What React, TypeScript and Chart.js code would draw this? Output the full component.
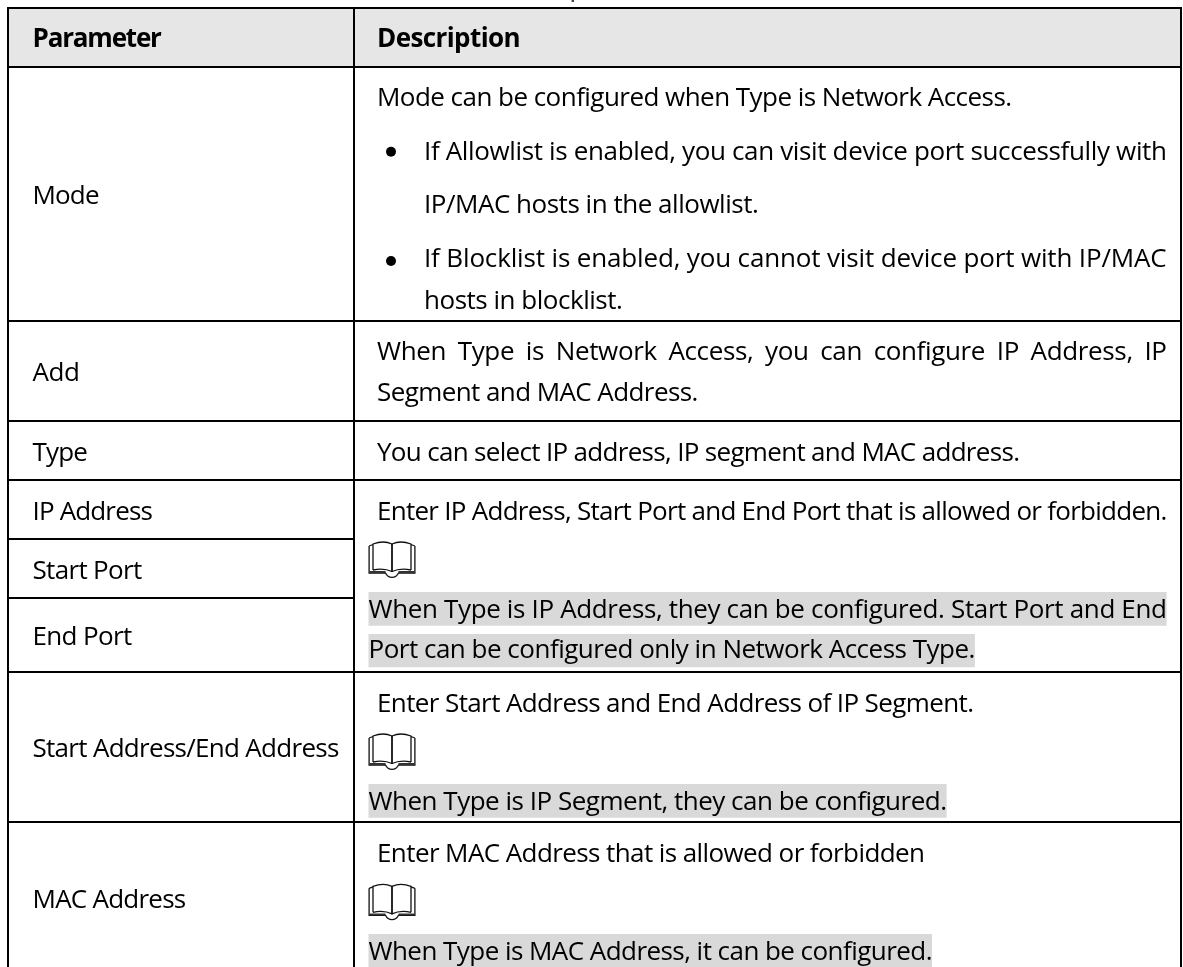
import React, { useEffect, useRef } from "react";
import { Chart, registerables } from "chart.js";

Chart.register(...registerables);

// ---- table content ----
const columnHeaders = ["Parameter", "Description"];
const parameterNames = ["Mode", "Add", "Type", "IP Address", "Start Port", "End Port", "Start Address/End Address", "MAC Address"];
const plainLines = [
  "Mode can be configured when Type is Network Access.",
  "If Allowlist is enabled, you can visit device port successfully with",
  "IP/MAC hosts in the allowlist.",
  "If Blocklist is enabled, you cannot visit device port with IP/MAC",
  "hosts in blocklist.",
  "When Type is Network Access, you can configure IP Address, IP",
  "Segment and MAC Address.",
  "You can select IP address, IP segment and MAC address.",
  "Enter IP Address, Start Port and End Port that is allowed or forbidden.",
  "Enter Start Address and End Address of IP Segment.",
  "Enter MAC Address that is allowed or forbidden",
];
const noteLines = [
  "When Type is IP Address, they can be configured. Start Port and End",
  "Port can be configured only in Network Access Type.",
  "When Type is IP Segment, they can be configured.",
  "When Type is MAC Address, it can be configured.",
];

// ---- layout, in scale units (the scales map 1 unit to 1 canvas pixel) ----
const WIDTH = 1183;
const HEIGHT = 967;
const xLeft = 8;
const xColumn = 354;
const xRight = 1181;
const yTop = 8;
const yHeaderBottom = 67;
const yRowBottoms = [321, 421, 480, 539, 598, 672, 822];
const yLeftOnlyRules = [539, 598];
const xParam = 32.5;
const xDesc = 377;
const xBulletText = 424;
const xNote = 368.5;
const parameterBaselines = [203.5, 381, 461, 520, 578.5, 644.5, 757, 907.5];
const plainX = [xDesc, xBulletText, xBulletText, xBulletText, xBulletText, xDesc, xDesc, xDesc, xDesc, xDesc, xDesc];
const plainBaselines = [105.5, 159.5, 212.5, 266.5, 308.5, 360, 401, 461, 520, 712, 862];
const plainEnds = [1011.6, 1166.6, 758.3, 1166.6, 622.4, 1166.6, 697.8, 1019.3, 1166.6, 973.4, 924.4];
const justifiedPlain = [5];
const noteBaselines = [617.7, 658.3, 810, 960];
const noteEnds = [1166.6, 974.9, 946.6, 932];
const noteBands = [[592, 625.7], [634, 667.3], [784, 817.7], [934, 968]];
const bulletYs = [151.7, 261];
const bookTops = [541, 733, 883.3];
const FONT = '"Open Sans", sans-serif';
const FS = 26;

type P = { x: number; y: number };
const seg = (x0: number, y0: number, x1: number, y1: number): P[] => [{ x: x0, y: y0 }, { x: x1, y: y1 }];
const ruleDs = (data: P[], width = 2, color = "#000000") => ({
  type: "line" as const, data, borderColor: color, borderWidth: width, pointRadius: 0,
  borderCapStyle: "butt" as const, fill: false, tension: 0, showLine: true,
});

function fitText(ctx: CanvasRenderingContext2D, text: string, x: number, y: number, end: number, justify = false) {
  ctx.letterSpacing = "0px";
  (ctx as any).wordSpacing = "0px";
  const natural = ctx.measureText(text).width;
  const extra = end - x - natural;
  if (justify) {
    // the natural width is a little too wide at this size, so tighten the letters and open the word gaps
    ctx.letterSpacing = "-0.35px";
    const tight = ctx.measureText(text).width;
    const spaces = text.split(" ").length - 1;
    (ctx as any).wordSpacing = `${(end - x - tight) / spaces}px`;
  } else {
    ctx.letterSpacing = `${extra / text.length}px`;
  }
  ctx.fillText(text, x, y);
  ctx.letterSpacing = "0px";
  (ctx as any).wordSpacing = "0px";
}

function drawBook(ctx: CanvasRenderingContext2D, x: number, y: number) {
  // 47 x 37 unit pictogram of an open book
  ctx.save();
  ctx.translate(x, y);
  ctx.strokeStyle = "#111111";
  ctx.lineWidth = 1.3;
  ctx.beginPath();
  ctx.moveTo(0.6, 5); ctx.lineTo(0.6, 32); ctx.lineTo(17, 32);
  ctx.quadraticCurveTo(19, 36.3, 23.5, 36.3);
  ctx.quadraticCurveTo(28, 36.3, 30, 32);
  ctx.lineTo(46.4, 32); ctx.lineTo(46.4, 5);
  ctx.moveTo(0.6, 5); ctx.lineTo(4.5, 3.5);
  ctx.moveTo(46.4, 5); ctx.lineTo(42.5, 3.5);
  ctx.stroke();
  ctx.beginPath();
  ctx.moveTo(4.5, 29); ctx.lineTo(4.5, 3);
  ctx.quadraticCurveTo(15, -1, 23.5, 3);
  ctx.quadraticCurveTo(32, -1, 42.5, 3);
  ctx.lineTo(42.5, 29);
  ctx.moveTo(4.5, 29); ctx.quadraticCurveTo(15, 26.5, 23.5, 30.5);
  ctx.quadraticCurveTo(32, 26.5, 42.5, 29);
  ctx.stroke();
  ctx.lineWidth = 1.8;
  ctx.beginPath(); ctx.moveTo(23.5, 3); ctx.lineTo(23.5, 31); ctx.stroke();
  ctx.lineWidth = 1.8;
  ctx.strokeStyle = "#333333";
  ctx.beginPath();
  ctx.moveTo(1, 31); ctx.lineTo(17, 31);
  ctx.moveTo(30, 31); ctx.lineTo(46, 31);
  ctx.stroke();
  ctx.restore();
}

const tablePlugin = {
  id: "tableText",
  afterDatasetsDraw(chart: any) {
    const { ctx, scales } = chart;
    const X = (v: number) => scales.x.getPixelForValue(v);
    const Y = (v: number) => scales.y.getPixelForValue(v);
    ctx.save();
    ctx.fillStyle = "#000000";
    ctx.textBaseline = "alphabetic";
    ctx.textAlign = "left";
    ctx.font = `700 ${FS}px ${FONT}`;
    fitText(ctx, columnHeaders[0], X(xParam), Y(46.7), X(160.7));
    fitText(ctx, columnHeaders[1], X(xDesc), Y(46.7), X(520));
    ctx.font = `400 ${FS}px ${FONT}`;
    const paramEnds = [98.7, 79.5, 87, 152, 141.5, 131.5, 338.7, 185.5];
    parameterNames.forEach((t, i) => fitText(ctx, t, X(xParam), Y(parameterBaselines[i]), X(paramEnds[i])));
    plainLines.forEach((t, i) => fitText(ctx, t, X(plainX[i]), Y(plainBaselines[i]), X(plainEnds[i]), justifiedPlain.includes(i)));
    noteLines.forEach((t, i) => fitText(ctx, t, X(xNote), Y(noteBaselines[i]), X(noteEnds[i])));
    bookTops.forEach((y) => drawBook(ctx, X(xNote), Y(y)));
    ctx.restore();
  },
};

export default function App() {
  const ref = useRef<HTMLCanvasElement>(null);
  useEffect(() => {
    if (!ref.current) return;
    const verticals = [xLeft, xColumn, xRight].map((x) => ruleDs(seg(x, yTop - 1, x, HEIGHT + 2)));
    const horizontals = [yTop, yHeaderBottom, ...yRowBottoms.filter((y) => !yLeftOnlyRules.includes(y))].map((y) =>
      ruleDs(seg(xLeft - 1, y, xRight + 1, y))
    );
    const leftOnly = yLeftOnlyRules.map((y) => ruleDs(seg(xLeft, y, xColumn, y)));
    const headerFill = ruleDs(seg(xLeft, (yTop + yHeaderBottom) / 2, xRight, (yTop + yHeaderBottom) / 2), yHeaderBottom - yTop, "#E6E6E6");
    const noteFills = noteBands.map(([a, b], i) => ruleDs(seg(xNote, (a + b) / 2, noteEnds[i], (a + b) / 2), b - a, "#D9D9D9"));
    const captionSpeck = ruleDs(seg(572.8, 0, 572.8, 2), 2.4, "#444444");
    const bullets = {
      type: "scatter" as const,
      data: bulletYs.map((y) => ({ x: 391, y })),
      backgroundColor: "#000000", borderWidth: 0, pointRadius: 5, pointStyle: "circle",
    };
    // Chart.js paints the first dataset last, so the fills go at the end of the list.
    const chart = new Chart(ref.current, {
      type: "scatter",
      data: { datasets: [bullets, captionSpeck, ...leftOnly, ...horizontals, ...verticals, ...noteFills, headerFill] as any },
      options: {
        animation: false,
        responsive: false,
        devicePixelRatio: 1,
        layout: { padding: 0, autoPadding: false },
        clip: false as any,
        plugins: { legend: { display: false }, tooltip: { enabled: false }, title: { display: false } },
        scales: {
          x: { type: "linear", display: false, min: 0, max: WIDTH },
          y: { type: "linear", display: false, min: 0, max: HEIGHT, reverse: true },
        },
      },
      plugins: [tablePlugin],
    });
    return () => chart.destroy();
  }, []);
  return (
    <div style={{ position: "fixed", left: 0, top: 0, width: WIDTH, height: HEIGHT, background: "#ffffff", overflow: "hidden" }}>
      <canvas ref={ref} width={WIDTH} height={HEIGHT} style={{ display: "block" }} />
    </div>
  );
}
